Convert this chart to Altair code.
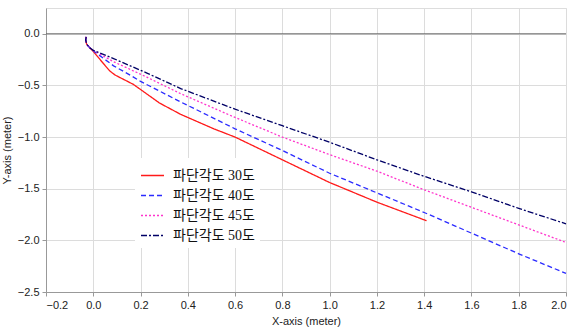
import altair as alt
import pandas as pd

series_names = ["파단각도 30도", "파단각도 40도", "파단각도 45도", "파단각도 50도"]
colors = ["#ff1a1a", "#2b2bff", "#ff33cc", "#000066"]
dashes = [[1, 0], [5, 3], [2, 2], [6, 2, 2, 2]]

start_x = [-0.03, -0.032, -0.028, -0.015]
start_y = [-0.03, -0.06, -0.10, -0.135]

x30 = [0.0, 0.04, 0.07, 0.093, 0.17, 0.28, 0.37, 0.45, 0.51, 0.6, 0.8, 1.0, 1.2, 1.41]
y30 = [-0.17, -0.28, -0.36, -0.40, -0.49, -0.67, -0.78, -0.86, -0.92, -1.0, -1.22, -1.44, -1.63, -1.81]

x40 = [0.0, 0.086, 0.156, 0.2, 0.37, 0.45, 0.6, 0.8, 1.0, 1.2, 1.4, 1.6, 1.8, 2.0]
y40 = [-0.165, -0.31, -0.40, -0.46, -0.66, -0.75, -0.92, -1.13, -1.35, -1.54, -1.73, -1.93, -2.13, -2.32]

x45 = [0.0, 0.086, 0.227, 0.37, 0.6, 0.8, 1.0, 1.2, 1.4, 1.6, 1.8, 2.0]
y45 = [-0.16, -0.27, -0.42, -0.58, -0.81, -1.0, -1.17, -1.33, -1.51, -1.68, -1.85, -2.02]

x50 = [0.0, 0.086, 0.227, 0.37, 0.6, 0.8, 1.0, 1.2, 1.4, 1.6, 1.8, 2.0]
y50 = [-0.16, -0.24, -0.38, -0.53, -0.73, -0.89, -1.05, -1.22, -1.38, -1.53, -1.69, -1.84]

x_ticks = [-0.2, 0.0, 0.2, 0.4, 0.6, 0.8, 1.0, 1.2, 1.4, 1.6, 1.8, 2.0]
y_ticks = [-2.5, -2.0, -1.5, -1.0, -0.5, 0.0]

rows = []
for name, xs, ys in zip(series_names, [x30, x40, x45, x50], [y30, y40, y45, y50]):
    allx = start_x + xs
    ally = start_y + ys
    for i, (a, b) in enumerate(zip(allx, ally)):
        rows.append({"series": name, "x": a, "y": b, "i": i})
df = pd.DataFrame(rows)

FONT = "Liberation Sans, Arial, sans-serif"

xs = alt.Scale(domain=[-0.2, 2.0], nice=False, zero=False)
ys = alt.Scale(domain=[-2.5, 0.25], nice=False, zero=False)

zero = alt.Chart(pd.DataFrame({"y": [0.0]})).mark_rule(color="#666666", strokeWidth=1).encode(
    y=alt.Y("y:Q", scale=ys)
)

lines = alt.Chart(df).mark_line(strokeWidth=1.3).encode(
    x=alt.X("x:Q", scale=xs,
            axis=alt.Axis(values=x_ticks, format=".1f", title="X-axis (meter)", grid=True,
                          gridColor="#dcdcdc", domainColor="#999999", tickColor="#999999",
                          tickSize=4, labelFont=FONT, labelFontSize=11, labelColor="#222222",
                          titleFont=FONT, titleFontSize=11, titleFontWeight="normal",
                          titleColor="#222222", titlePadding=5, labelPadding=3)),
    y=alt.Y("y:Q", scale=ys,
            axis=alt.Axis(values=y_ticks, format=".1f", title="Y-axis (meter)", grid=True,
                          gridColor="#dcdcdc", domainColor="#999999", tickColor="#999999",
                          tickSize=4, labelFont=FONT, labelFontSize=11, labelColor="#222222",
                          titleFont=FONT, titleFontSize=11, titleFontWeight="normal",
                          titleColor="#222222", titlePadding=5, labelPadding=3)),
    color=alt.Color("series:N", scale=alt.Scale(domain=series_names, range=colors),
                    legend=alt.Legend(title=None, orient="none", legendX=89, legendY=150,
                                      fillColor="white", padding=5, symbolType="stroke",
                                      symbolSize=529, symbolStrokeWidth=1.5,
                                      labelFont="Liberation Serif, Noto Sans CJK KR, serif",
                                      labelFontSize=14, labelColor="#111111",
                                      rowPadding=0, labelOffset=8)),
    strokeDash=alt.StrokeDash("series:N", scale=alt.Scale(domain=series_names, range=dashes),
                              legend=None),
    order="i:Q",
)

chart = alt.layer(lines, zero).properties(
    width=520, height=284,
    autosize="none",
    padding={"left": 46, "top": 8, "right": 7, "bottom": 38},
).configure_view(stroke="#cccccc").configure(background="white")

chart.save("out.html", embed_options={"renderer": "svg", "actions": False})
